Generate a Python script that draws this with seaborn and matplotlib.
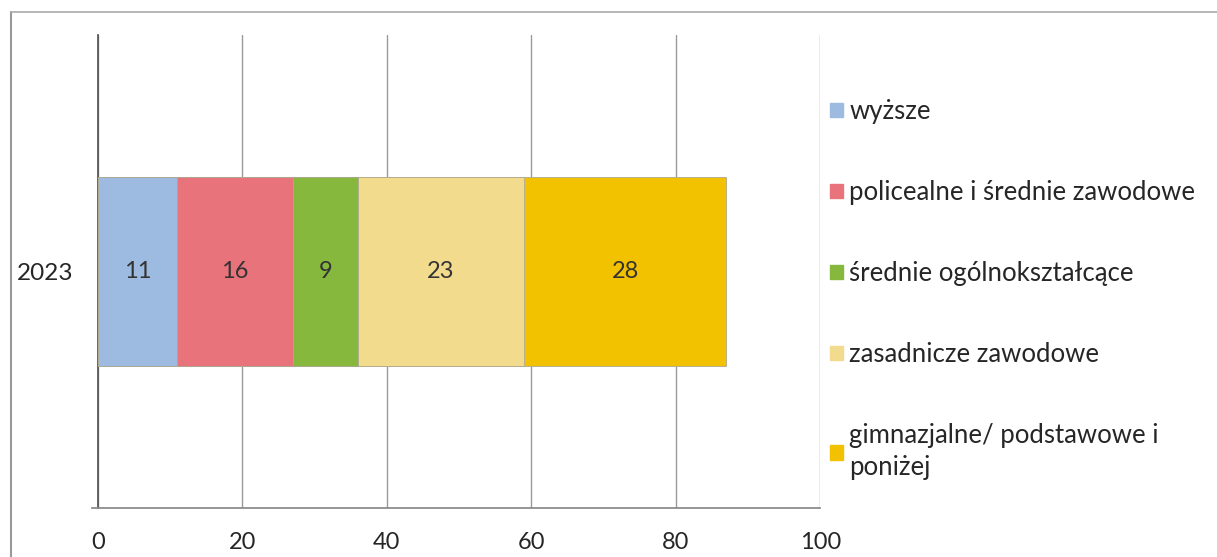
import numpy as np
import pandas as pd
import matplotlib.pyplot as plt
import seaborn as sns
from matplotlib.lines import Line2D
from matplotlib.patches import Patch

sns.set_theme(style="white")
plt.rcParams['font.family'] = ['Lato', 'DejaVu Sans']

year = "2023"
categories = ["wyższe", "policealne i średnie zawodowe", "średnie ogólnokształcące",
              "zasadnicze zawodowe", "gimnazjalne/ podstawowe i\nponiżej"]
values = [11, 16, 9, 23, 28]
colors = ["#9dbbe0", "#e8737b", "#86b83e", "#f3db8e", "#f2c100"]

df = pd.DataFrame({"kat": categories, "val": values, "rok": year})
df["cum"] = df["val"].cumsum()

fig = plt.figure(figsize=(12.17, 5.57), dpi=100)
ax = fig.add_axes([0.0805, 0.088, 0.5935, 0.849])

# stacked: draw cumulative sums from the largest to the smallest
for i in reversed(range(len(df))):
    row = df.iloc[[i]]
    sns.barplot(data=row, x="cum", y="rok", color=colors[i], width=0.4,
                orient="h", ax=ax, edgecolor="#b0a890", linewidth=0.6,
                saturation=1, zorder=3)

# value labels in the middle of each segment
for i, r in df.iterrows():
    ax.text(r["cum"] - r["val"] / 2, 0, str(r["val"]), ha="center", va="center",
            fontsize=17, color="#333333", zorder=4)

ax.set_xlim(0, 100)
ax.set_ylim(0.5, -0.5)
ax.set_xticks(range(0, 101, 20))
ax.set_xlabel("")
ax.set_ylabel("")
ax.tick_params(axis="x", labelsize=17, length=5, direction="out", pad=12, color="#777777")
ax.tick_params(axis="y", labelsize=17.5, length=0, pad=18)
ax.xaxis.grid(True, color="#9a9a9a", linewidth=1.0, zorder=0)
ax.set_axisbelow(True)
for s in ["top", "right"]:
    ax.spines[s].set_visible(False)
ax.spines["left"].set_color("#555555")
ax.spines["bottom"].set_color("#888888")
ax.spines["bottom"].set_bounds(-0.8, 100)
ax.set_yticks([0])
ax.set_yticklabels([year])

handles = [Patch(facecolor=c, edgecolor=c) for c in colors]
leg = fig.legend(handles, categories, loc="upper left", bbox_to_anchor=(0.682, 0.822),
                 frameon=False, fontsize=18.5, labelspacing=2.18, handlelength=0.5,
                 handleheight=0.5, handletextpad=0.25, borderpad=0, borderaxespad=0)
leg.get_texts()[-1].set_linespacing(1.35)

# outer frame of the chart area
fig.add_artist(Line2D([0.009, 0.009], [0, 0.978], color="#999999", lw=1.5))
fig.add_artist(Line2D([0.009, 1.0], [0.978, 0.978], color="#aaaaaa", lw=1.2))

fig.savefig("out.png", dpi=100)
